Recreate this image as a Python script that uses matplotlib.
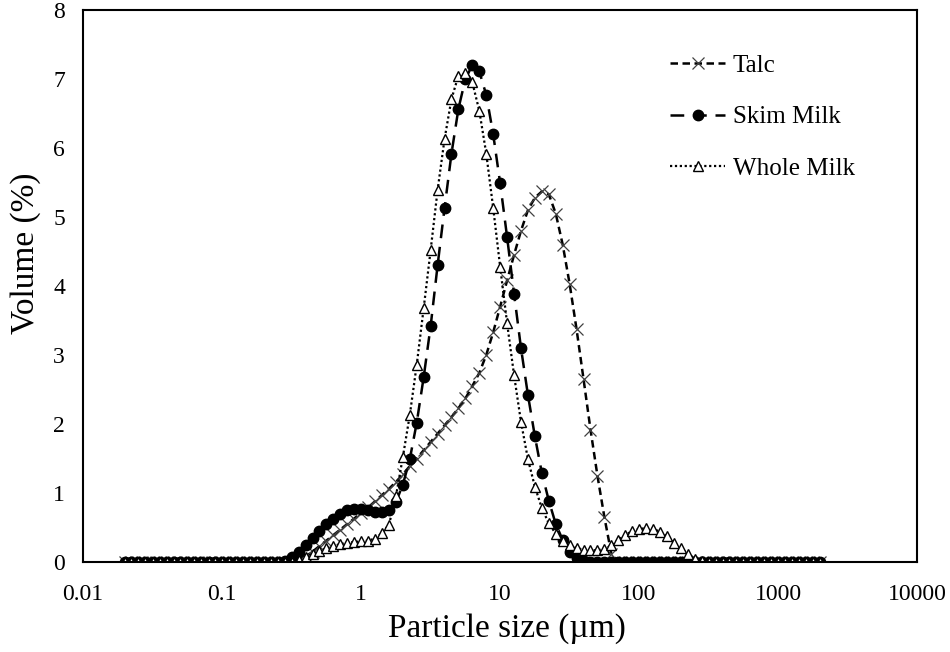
"""
Particle size distribution of talc, skim milk and whole milk
"""
import matplotlib
matplotlib.use("Agg")
import matplotlib.pyplot as plt

# Mastersizer size classes (um)
sizes = [
    0.020, 0.022, 0.025, 0.028, 0.032, 0.036, 0.040, 0.045, 0.050, 0.056,
    0.063, 0.071, 0.080, 0.089, 0.100, 0.112, 0.126, 0.142, 0.159, 0.178,
    0.200, 0.224, 0.252, 0.283, 0.317, 0.356, 0.399, 0.448, 0.502, 0.564,
    0.632, 0.710, 0.796, 0.893, 1.002, 1.125, 1.262, 1.416, 1.589, 1.783,
    2.000, 2.244, 2.518, 2.825, 3.170, 3.557, 3.991, 4.477, 5.024, 5.637,
    6.325, 7.096, 7.962, 8.934, 10.024, 11.247, 12.619, 14.159, 15.887, 17.825,
    20.000, 22.440, 25.179, 28.251, 31.698, 35.566, 39.905, 44.774, 50.238, 56.368,
    63.246, 70.963, 79.621, 89.337, 100.237, 112.468, 126.191, 141.589, 158.866, 178.250,
    200.000, 224.404, 251.785, 282.508, 316.979, 355.656, 399.052, 447.744, 502.377, 563.677,
    632.456, 709.627, 796.214, 893.367, 1002.374, 1124.683, 1261.915, 1415.892, 1588.656, 1782.502,
    2000.000,
]

talc = [
    0, 0, 0, 0, 0, 0, 0, 0, 0, 0,
    0, 0, 0, 0, 0, 0, 0, 0, 0, 0,
    0, 0, 0, 0, 0.00, 0.03, 0.08, 0.15, 0.23, 0.31,
    0.39, 0.47, 0.55, 0.63, 0.71, 0.79, 0.88, 0.97, 1.06, 1.16,
    1.27, 1.39, 1.50, 1.62, 1.74, 1.86, 1.98, 2.10, 2.23, 2.37,
    2.55, 2.74, 3.00, 3.33, 3.70, 4.08, 4.45, 4.80, 5.10, 5.28,
    5.37, 5.33, 5.05, 4.60, 4.03, 3.37, 2.65, 1.92, 1.25, 0.65,
    0.12, 0, 0, 0, 0, 0, 0, 0, 0, 0,
    0, 0, 0, 0, 0, 0, 0, 0, 0, 0,
    0, 0, 0, 0, 0, 0, 0, 0, 0, 0,
    0,
]

skim_milk = [
    0, 0, 0, 0, 0, 0, 0, 0, 0, 0,
    0, 0, 0, 0, 0, 0, 0, 0, 0, 0,
    0, 0, 0, 0.02, 0.07, 0.15, 0.25, 0.35, 0.45, 0.55,
    0.63, 0.70, 0.75, 0.77, 0.77, 0.75, 0.73, 0.72, 0.75, 0.87,
    1.12, 1.49, 2.02, 2.68, 3.42, 4.30, 5.13, 5.92, 6.57, 7.00,
    7.20, 7.11, 6.77, 6.20, 5.49, 4.71, 3.89, 3.10, 2.42, 1.82,
    1.29, 0.89, 0.55, 0.32, 0.15, 0.06, 0.02, 0, 0, 0,
    0, 0, 0, 0, 0, 0, 0, 0, 0, 0,
    0, 0, 0, 0, 0, 0, 0, 0, 0, 0,
    0, 0, 0, 0, 0, 0, 0, 0, 0, 0,
    0,
]

whole_milk = [
    0, 0, 0, 0, 0, 0, 0, 0, 0, 0,
    0, 0, 0, 0, 0, 0, 0, 0, 0, 0,
    0, 0, 0, 0, 0.00, 0.03, 0.07, 0.12, 0.16, 0.20,
    0.23, 0.26, 0.28, 0.29, 0.30, 0.31, 0.34, 0.42, 0.54, 0.95,
    1.52, 2.13, 2.86, 3.68, 4.52, 5.39, 6.13, 6.71, 7.05, 7.08,
    6.95, 6.54, 5.92, 5.13, 4.28, 3.46, 2.71, 2.03, 1.49, 1.09,
    0.78, 0.56, 0.41, 0.30, 0.24, 0.20, 0.18, 0.17, 0.17, 0.19,
    0.24, 0.32, 0.39, 0.45, 0.48, 0.49, 0.48, 0.44, 0.37, 0.28,
    0.20, 0.12, 0.05, 0.01, 0, 0, 0, 0, 0, 0,
    0, 0, 0, 0, 0, 0, 0, 0, 0, 0,
    0,
]

x_ticks = [0.01, 0.1, 1, 10, 100, 1000, 10000]
x_tick_labels = ["0.01", "0.1", "1", "10", "100", "1000", "10000"]
y_ticks = [0, 1, 2, 3, 4, 5, 6, 7, 8]

plt.rcParams["font.family"] = ["Liberation Serif", "DejaVu Serif"]

fig = plt.figure(figsize=(9.5, 6.52), dpi=100)
ax = fig.add_axes([83 / 950, 1 - 562 / 652, 834 / 950, 552 / 652])

ax.plot(sizes, talc, color="black", linewidth=1.8, dashes=(3.0, 1.8),
        marker="x", markersize=8, markeredgewidth=0.9, markeredgecolor="#404040",
        label="Talc")
ax.plot(sizes, skim_milk, color="black", linewidth=1.8, dashes=(5.5, 3.5),
        marker="o", markersize=7.5, markerfacecolor="black", markeredgecolor="black",
        label="Skim Milk")
ax.plot(sizes, whole_milk, color="black", linewidth=1.6, linestyle=(0, (1, 1.2)),
        marker="^", markersize=7, markerfacecolor="white", markeredgecolor="black",
        markeredgewidth=1.0, label="Whole Milk")

ax.set_xscale("log")
ax.set_xlim(0.01, 10000)
ax.set_ylim(0, 8)
ax.set_xticks(x_ticks)
ax.set_xticklabels(x_tick_labels)
ax.minorticks_off()
ax.set_yticks(y_ticks)
ax.tick_params(axis="both", length=0, labelsize=17, colors="black")
ax.tick_params(axis="x", pad=16)
ax.tick_params(axis="y", pad=13)
for spine in ax.spines.values():
    spine.set_linewidth(1.5)
    spine.set_color("black")

ax.set_xlabel("Particle size (µm)", fontsize=24)
ax.set_ylabel("Volume (%)", fontsize=24)
ax.xaxis.set_label_coords(0.508, -0.093)
ax.yaxis.set_label_coords(-0.05, 0.56)

ax.legend(loc="upper left", bbox_to_anchor=(0.704, 0.92), frameon=False,
          fontsize=18, handlelength=2.2, handletextpad=0.3, labelspacing=1.17,
          borderaxespad=0, borderpad=0)

fig.savefig("out.png", dpi=100)
plt.close(fig)
